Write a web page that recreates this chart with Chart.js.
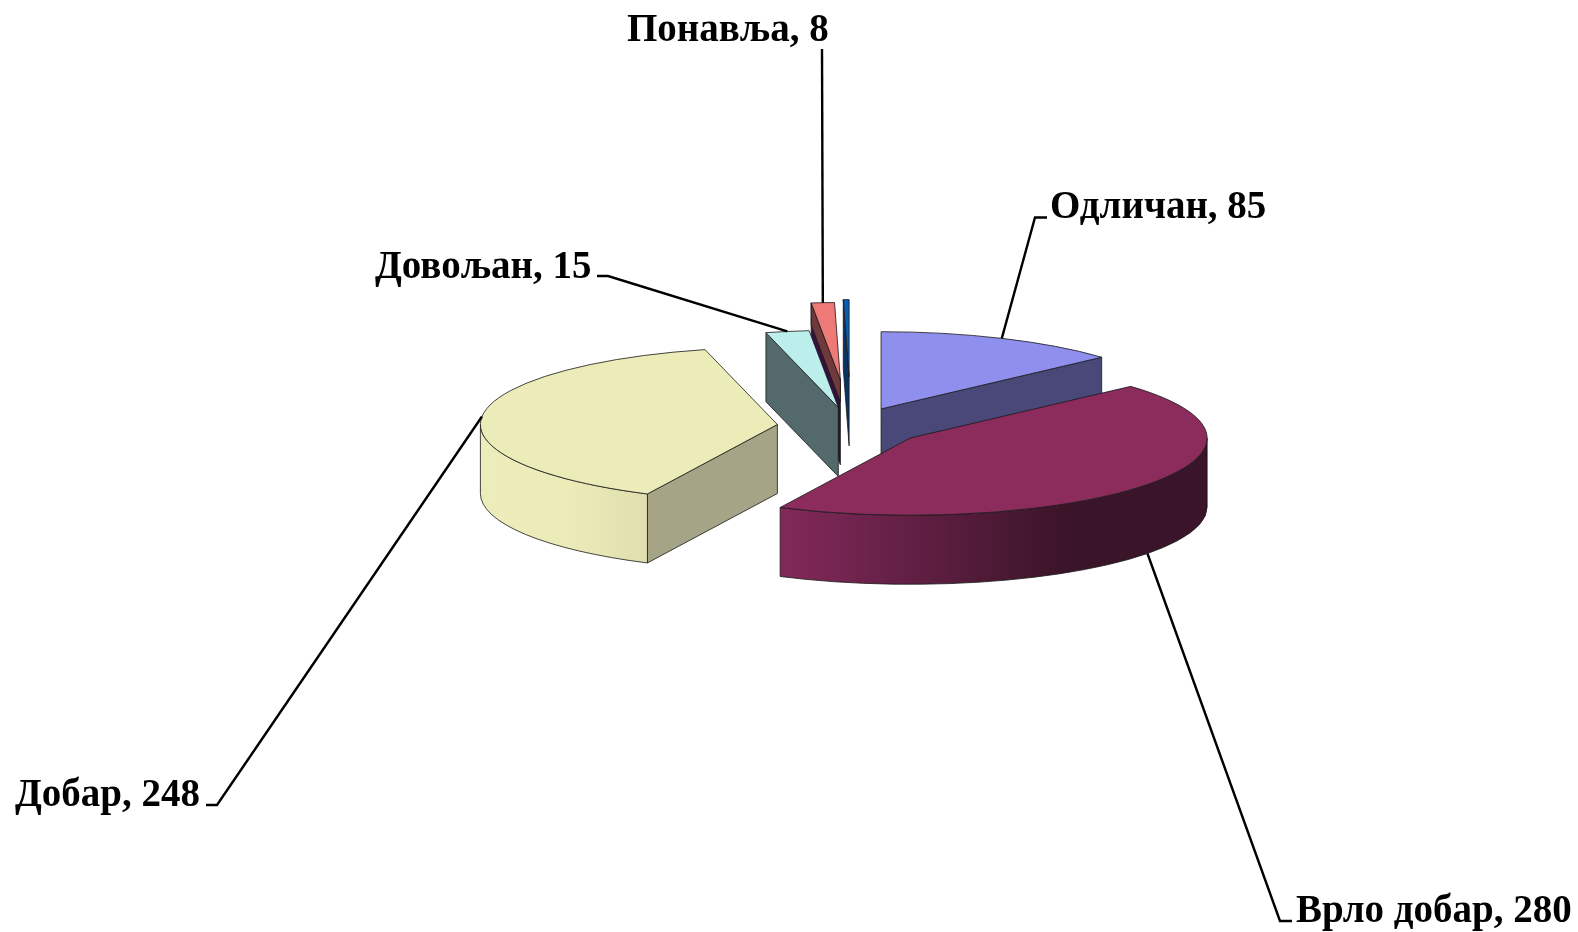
<!DOCTYPE html>
<html>
<head>
<meta charset="utf-8">
<style>html,body{margin:0;padding:0;background:#fff}canvas{display:block}</style>
<script src="https://cdn.jsdelivr.net/npm/chart.js@4/dist/chart.umd.js"></script>
</head>
<body>
<canvas id="c" width="1578" height="932"></canvas>
<script>
// --- data ---
const categories = ['Одличан', 'Врло добар', 'Добар', 'Довољан', 'Понавља', ''];
const values = [85, 280, 248, 15, 8, 2];

// --- styles ---
const topColors = ['#8F8FEE', '#8B2C5C', '#ECECB9', '#BCEEEC', '#EE7A78', '#0B5CB0'];
const faceColors = ['#4A4878', '#3A1426', '#A5A487', '#53696B', '#34103C', '#0A3364'];
const wallStops = [null, [[0, '#82295A'], [0.68, '#3A1428'], [1, '#3A1428']],
                   [[0, '#EDEDBC'], [0.5, '#ECECB9'], [1, '#E0DEAF']], null, null, null];
const explode = [74, 74, 74, 74, 180, 191];
const depths = [69, 69, 69, 69, 85, 69];
const faceBand = [null, null, null, null, {color: '#703A3C', depth: 22}, null];
const SQUASH = 0.26;
const RADIUS = 297;
const FONT = 'bold 39px "Liberation Serif"';

// label text anchor (left, baseline) and leader line waypoints, from slice to text
const labelAt = [[1050, 218], [1296, 922], [15, 806], [375, 278], [627, 41], null];
const leaderVia = [
  [[1035, 217.5], [1047, 217.5]],
  [[1280, 921], [1292, 921]],
  [[217, 805], [206, 805]],
  [[608, 276], [597, 276]],
  [[822, 49]],
  null
];

const geometry = el => {
  const p = el.getProps(['x', 'y', 'startAngle', 'endAngle', 'outerRadius'], true);
  const mid = (p.startAngle + p.endAngle) / 2, d = el.options.offset;
  return {
    s: p.startAngle, e: p.endAngle, mid, R: p.outerRadius,
    ax: p.x + Math.cos(mid) * d,
    ay: p.y + Math.sin(mid) * d * SQUASH
  };
};

const pie3d = {
  id: 'pie3d',
  beforeDatasetDraw(chart) {
    const ctx = chart.ctx, arcs = chart.getDatasetMeta(0).data;
    const order = arcs.map((el, i) => ({i, g: geometry(el)})).sort((a, b) => a.g.ay - b.g.ay);
    ctx.save();
    ctx.lineJoin = 'round';
    ctx.lineWidth = 1;
    ctx.strokeStyle = 'rgba(25,25,25,0.8)';
    for (const {i, g} of order) {
      const {ax, ay, R, s, e} = g, ry = R * SQUASH, depth = depths[i];
      const face = (ang, dp, color) => {
        const cx = ax + Math.cos(ang) * R, cy = ay + Math.sin(ang) * ry;
        ctx.beginPath();
        ctx.moveTo(ax, ay); ctx.lineTo(cx, cy);
        ctx.lineTo(cx, cy + dp); ctx.lineTo(ax, ay + dp);
        ctx.closePath();
        ctx.fillStyle = color; ctx.fill(); ctx.stroke();
      };
      if (Math.cos(s) < -1e-6) {
        face(s, depth, faceColors[i]);
        if (faceBand[i]) face(s, faceBand[i].depth, faceBand[i].color);
      }
      if (Math.cos(e) > 1e-6) face(e, depth, faceColors[i]);
      const a = Math.max(s, 0), b = Math.min(e, Math.PI);
      if (b > a && wallStops[i]) {
        const x0 = ax + Math.cos(b) * R, x1 = ax + Math.cos(a) * R;
        const grad = ctx.createLinearGradient(x0, 0, x1, 0);
        wallStops[i].forEach(st => grad.addColorStop(st[0], st[1]));
        ctx.beginPath();
        ctx.ellipse(ax, ay, R, ry, 0, a, b);
        ctx.ellipse(ax, ay + depth, R, ry, 0, b, a, true);
        ctx.closePath();
        ctx.fillStyle = grad; ctx.fill(); ctx.stroke();
      }
      ctx.beginPath();
      ctx.moveTo(ax, ay);
      ctx.ellipse(ax, ay, R, ry, 0, s, e);
      ctx.closePath();
      ctx.fillStyle = arcs[i].options.backgroundColor; ctx.fill(); ctx.stroke();
    }
    ctx.restore();
    return false;
  },
  afterDatasetsDraw(chart) {
    const ctx = chart.ctx, arcs = chart.getDatasetMeta(0).data;
    ctx.save();
    ctx.strokeStyle = '#000';
    ctx.lineWidth = 2.4;
    arcs.forEach((el, i) => {
      if (!leaderVia[i]) return;
      const g = geometry(el);
      const front = Math.sin(g.mid) > 0;
      ctx.beginPath();
      ctx.moveTo(g.ax + Math.cos(g.mid) * g.R,
                 g.ay + Math.sin(g.mid) * g.R * SQUASH + (front ? depths[i] : 0));
      leaderVia[i].forEach(p => ctx.lineTo(p[0], p[1]));
      ctx.stroke();
    });
    ctx.fillStyle = '#000';
    ctx.font = FONT;
    ctx.textBaseline = 'alphabetic';
    categories.forEach((name, i) => {
      if (labelAt[i]) ctx.fillText(name + ', ' + values[i], labelAt[i][0], labelAt[i][1]);
    });
    ctx.restore();
  }
};

new Chart(document.getElementById('c'), {
  type: 'pie',
  data: {
    labels: categories,
    datasets: [{data: values, backgroundColor: topColors, offset: explode, borderWidth: 0}]
  },
  options: {
    responsive: false,
    animation: false,
    radius: RADIUS,
    layout: {padding: {left: 124, bottom: 79}},
    plugins: {legend: {display: false}, tooltip: {enabled: false}}
  },
  plugins: [pie3d]
});
</script>
</body>
</html>
